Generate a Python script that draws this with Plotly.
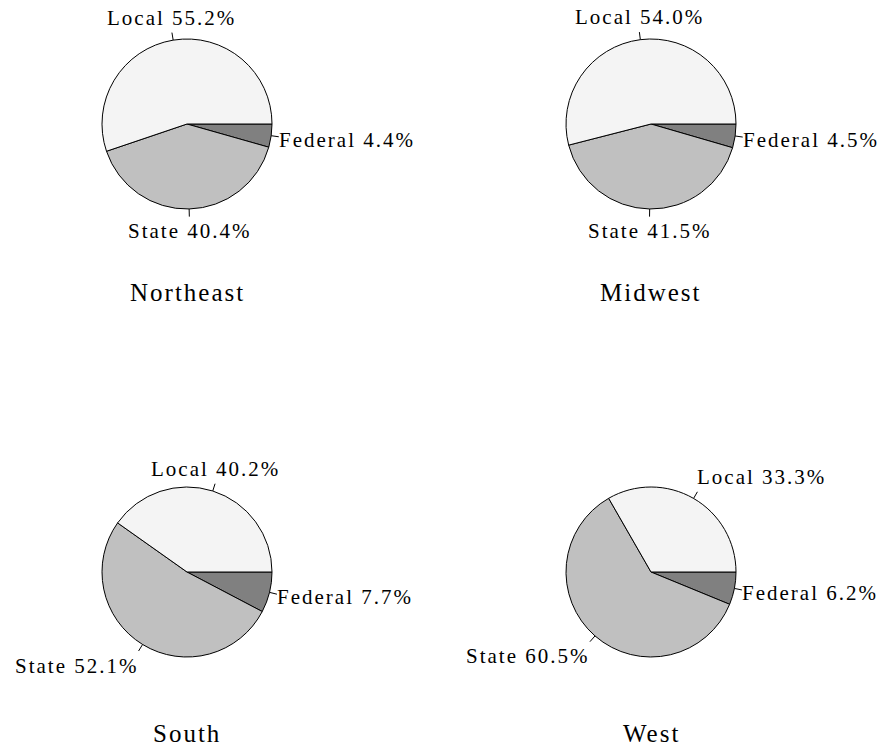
import math
import plotly.graph_objects as go

W, H = 885, 746

regions = ["Northeast", "Midwest", "South", "West"]
sources = ["Local", "State", "Federal"]
local_pct = [55.2, 54.0, 40.2, 33.3]
state_pct = [40.4, 41.5, 52.1, 60.5]
federal_pct = [4.4, 4.5, 7.7, 6.2]

colors = {"Local": "#f4f4f4", "State": "#c0c0c0", "Federal": "#808080"}
font_family = "Liberation Serif, Times New Roman, serif"

# pie centres / radius in pixels
centers = [(187, 124), (651, 124), (187, 572), (651, 572)]
R = 85
title_y = [293, 293, 733, 733]


def px_x(x):
    return x / W


def px_y(y):
    return 1 - y / H


def spaced(s, sp=2):
    return f'<span style="letter-spacing:{sp}px">{s}</span>'


def anchors(a):
    a = a % 360
    if 67.5 <= a < 112.5:
        return "center", "bottom"
    if 22.5 <= a < 67.5:
        return "left", "bottom"
    if a < 22.5 or a >= 337.5:
        return "left", "middle"
    if 292.5 <= a < 337.5:
        return "left", "top"
    if 247.5 <= a < 292.5:
        return "center", "top"
    if 202.5 <= a < 247.5:
        return "right", "top"
    if 157.5 <= a < 202.5:
        return "right", "middle"
    return "right", "bottom"


fig = go.Figure()
shapes = []
annotations = []

for i, name in enumerate(regions):
    vals = [local_pct[i], state_pct[i], federal_pct[i]]
    cx, cy = centers[i]
    # clockwise from 3 o'clock in reverse order == counterclockwise Local, State, Federal
    fig.add_trace(go.Pie(
        values=vals[::-1],
        labels=sources[::-1],
        sort=False,
        direction="clockwise",
        rotation=90,
        textinfo="none",
        hoverinfo="label+percent",
        marker=dict(colors=[colors[s] for s in sources[::-1]],
                    line=dict(color="black", width=1)),
        domain=dict(x=[px_x(cx - R), px_x(cx + R)],
                    y=[px_y(cy + R), px_y(cy - R)]),
        showlegend=False,
    ))

    # labels with short leader lines
    start = 0.0
    total = sum(vals)
    for src, v in zip(sources, vals):
        mid = (start + v / 2) / total * 360
        start += v
        ca, sa = math.cos(math.radians(mid)), math.sin(math.radians(mid))
        x0, y0 = cx + R * ca, cy - R * sa
        x1, y1 = cx + 1.09 * R * ca, cy - 1.09 * R * sa
        shapes.append(dict(type="line", xref="paper", yref="paper",
                           x0=px_x(x0), y0=px_y(y0), x1=px_x(x1), y1=px_y(y1),
                           line=dict(color="black", width=1)))
        xa, ya = anchors(mid)
        tx, ty = cx + 1.1 * R * ca, cy - 1.1 * R * sa
        xs = {"left": -3, "right": 2, "center": 0}[xa]
        ys = -3 if ya == "middle" else 0
        annotations.append(dict(
            x=px_x(tx), y=px_y(ty), xref="paper", yref="paper",
            text=spaced(f"{src} {v:.1f}%"), showarrow=False,
            xanchor=xa, yanchor=ya, xshift=xs, yshift=ys,
            font=dict(family=font_family, size=21, color="black"),
        ))

    annotations.append(dict(
        x=px_x(cx), y=px_y(title_y[i]), xref="paper", yref="paper",
        text=spaced(name), showarrow=False, xanchor="center", yanchor="middle",
        font=dict(family=font_family, size=25, color="black"),
    ))

fig.update_layout(
    width=W, height=H,
    margin=dict(l=0, r=0, t=0, b=0),
    paper_bgcolor="white",
    plot_bgcolor="white",
    shapes=shapes,
    annotations=annotations,
)

fig.write_html("out.html", config={"displayModeBar": False},
               post_script="document.body.style.margin='0';")
